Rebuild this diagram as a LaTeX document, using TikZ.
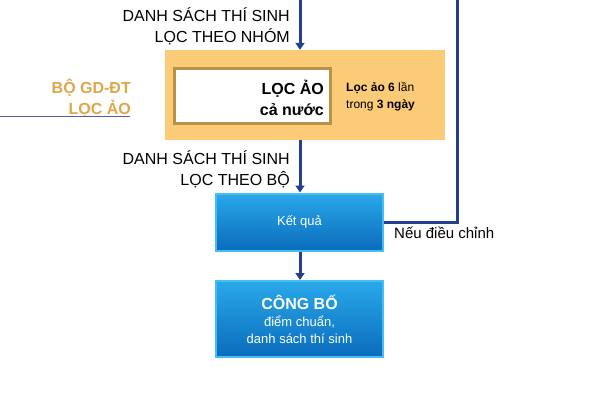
\documentclass[tikz,border=0pt]{standalone}
\usepackage{fontspec}
\setmainfont{Liberation Sans}
\usetikzlibrary{arrows.meta}
\definecolor{navy}{HTML}{23408E}
\definecolor{orangebg}{HTML}{FBCB78}
\definecolor{goldb}{HTML}{B8924A}
\definecolor{goldt}{HTML}{E0A64A}
\definecolor{blueA}{HTML}{2AA8EA}
\definecolor{blueB}{HTML}{0A6CBC}
\definecolor{blueE}{HTML}{45BFF2}
\begin{document}
\begin{tikzpicture}[x=1pt,y=-1pt,
  conn/.style={navy,line width=3pt,-{Triangle[length=7pt,width=9pt]}},
  lbl/.style={font=\fontsize{16}{21}\selectfont,align=right,anchor=east,inner sep=0pt},
  bluebox/.style={draw=blueE,line width=2pt,top color=blueA,bottom color=blueB,text=white,minimum width=167pt,align=center,inner sep=0pt}]
\useasboundingbox[fill=white] (0,0) rectangle (600,400);
\coordinate (top) at (300,0);
\coordinate (rtop) at (457,0);
\node[fill=orangebg,minimum width=280pt,minimum height=90pt,inner sep=0pt] (org) at (305,95) {};
\node[fill=white,draw=goldb,line width=3pt,minimum width=156pt,minimum height=55pt,inner sep=0pt] (wb) at (252.5,95.5) {};
\node[font=\bfseries\fontsize{16}{21}\selectfont,align=right,anchor=east,inner sep=0pt] (lc) at (324,98) {LỌC ẢO\\cả nước};
\node[font=\fontsize{12}{17}\selectfont,align=left,anchor=west,inner sep=0pt] (la) at (346,97) {\textbf{Lọc ảo 6} lần\\trong \textbf{3 ngày}};
\node[font=\bfseries\fontsize{16}{21}\selectfont,text=goldt,align=right,anchor=east,inner sep=0pt] (bo) at (131,98) {BỘ GD-ĐT\\LỌC ẢO};
\coordinate (gl1) at (0,116);
\coordinate (gl2) at (130,116);
\draw[gray!70!blue,line width=0.7pt] (gl1) -- (gl2);
\node[lbl] (d1) at (290,26) {DANH SÁCH THÍ SINH\\LỌC THEO NHÓM};
\node[lbl] (d2) at (290,169) {DANH SÁCH THÍ SINH\\LỌC THEO BỘ};
\node[bluebox,minimum height=57pt,font=\fontsize{13}{17}\selectfont] (kq) at (299.5,222) {Kết quả};
\node[bluebox,minimum height=76pt,font=\fontsize{13}{17}\selectfont] (cb) at (299.5,319) {{\bfseries\fontsize{16}{20}\selectfont CÔNG BỐ}\\điểm chuẩn,\\danh sách thí sinh};
\node[font=\fontsize{15}{18}\selectfont,anchor=west,inner sep=0pt] (nd) at (394,233) {Nếu điều chỉnh};
\draw[conn] (top) -- (org.north -| top);
\draw[conn] (org.south -| top) -- (kq.north -| top);
\draw[conn] (kq.south -| top) -- (cb.north -| top);
\draw[navy,line width=3pt] (rtop) -- (rtop |- kq.east) -- (kq.east);
\end{tikzpicture}
\end{document}
